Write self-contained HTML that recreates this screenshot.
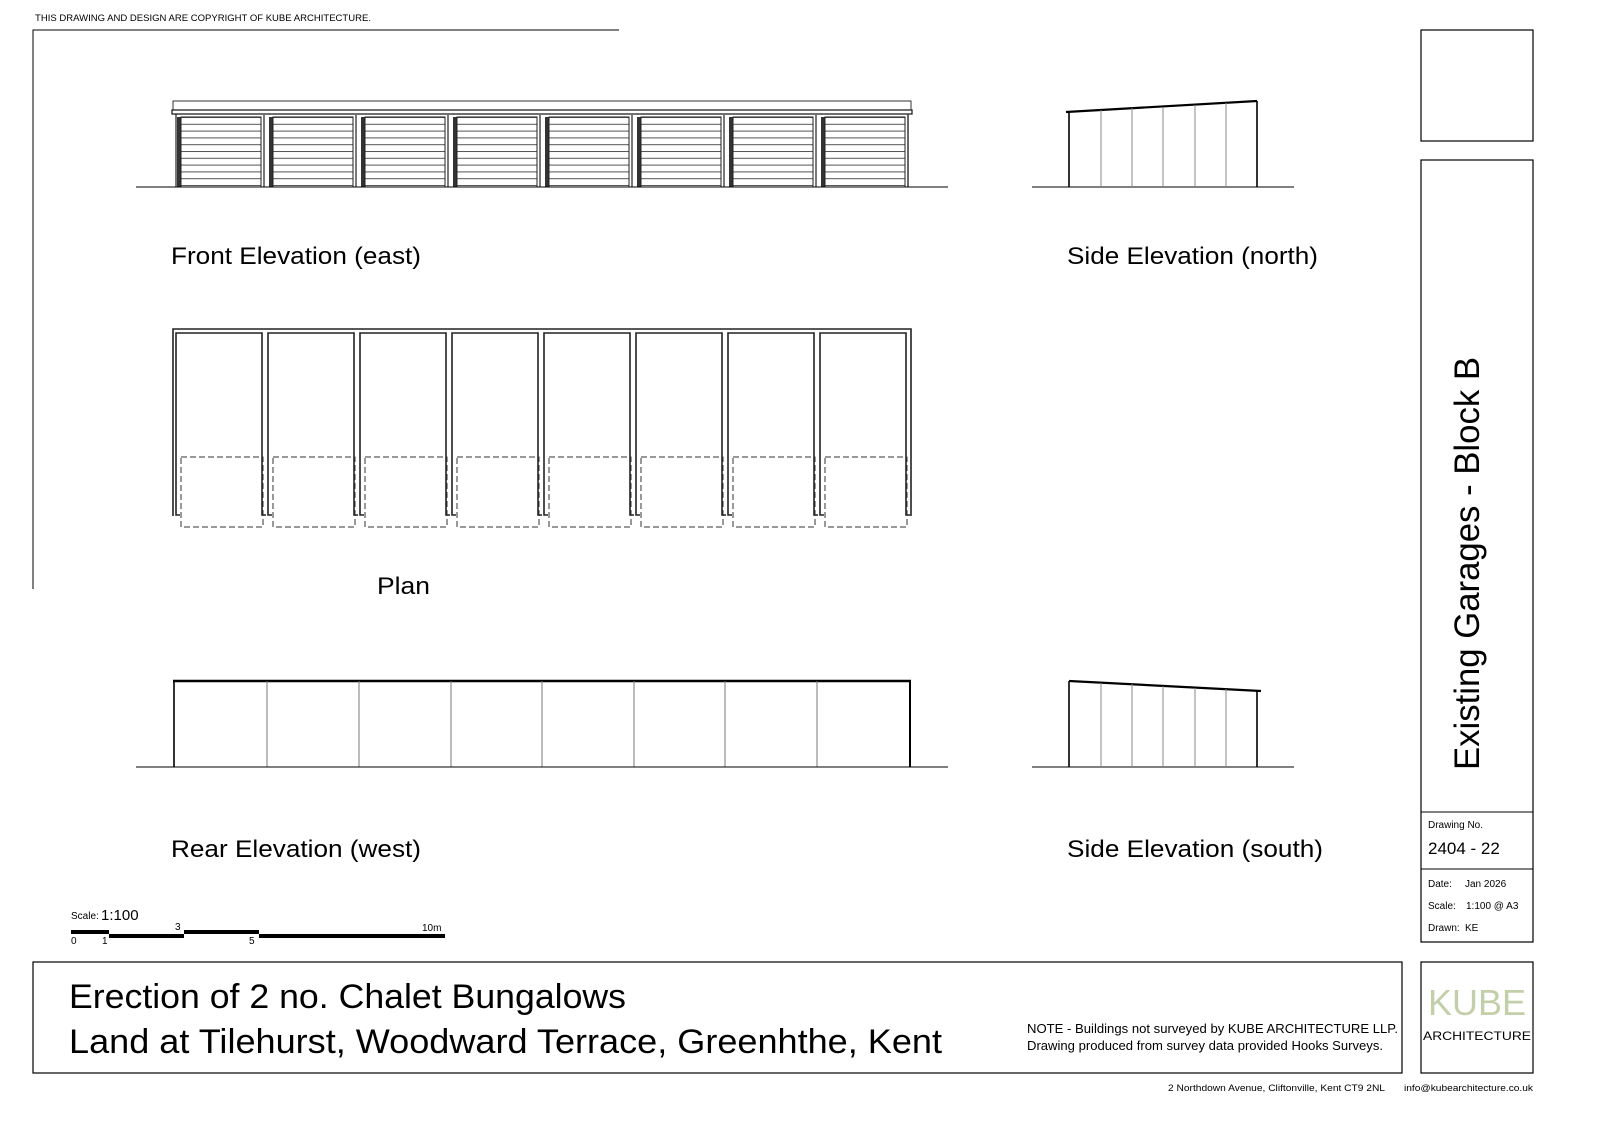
<!DOCTYPE html>
<html><head><meta charset="utf-8"><style>
html,body{margin:0;padding:0;background:#fff;}
svg{display:block;font-family:"Liberation Sans",Arial,sans-serif;}
</style></head><body>
<svg width="1600" height="1131" viewBox="0 0 1600 1131" xmlns="http://www.w3.org/2000/svg">
<defs>
<pattern id="slat" x="0" y="117" width="10" height="6.8" patternUnits="userSpaceOnUse">
<line x1="0" y1="0.5" x2="10" y2="0.5" stroke="#555" stroke-width="1"/>
</pattern>
<g id="bayF">
<rect x="4" y="117" width="4" height="70" fill="#333"/>
<rect x="8" y="117" width="80" height="70" fill="url(#slat)" stroke="#222" stroke-width="1"/>
<line x1="91" y1="115" x2="91" y2="187" stroke="#222" stroke-width="1.2"/>
</g>
<g id="bayP" fill="none" stroke="#222">
<polyline points="7,515 3,515 3,333 89,333 89,515 93,515" stroke-width="1.6"/>
<rect x="8" y="457" width="82" height="70" stroke="#333" stroke-width="1" stroke-dasharray="6,3"/>
</g>
</defs>
<text x="35" y="21" font-size="9" textLength="336" lengthAdjust="spacingAndGlyphs">THIS DRAWING AND DESIGN ARE COPYRIGHT OF KUBE ARCHITECTURE.</text>
<polyline points="619,30 33,30 33,589" fill="none" stroke="#000" stroke-width="1"/>

<!-- Front elevation -->
<rect x="173" y="101" width="738" height="9" fill="none" stroke="#333" stroke-width="1"/>
<rect x="172" y="110" width="740" height="4" fill="none" stroke="#222" stroke-width="1.3"/>
<line x1="176" y1="114" x2="176" y2="187" stroke="#222" stroke-width="1.2"/>
<line x1="908" y1="114" x2="908" y2="187" stroke="#222" stroke-width="1.2"/>
<use href="#bayF" x="173"/><use href="#bayF" x="265"/><use href="#bayF" x="357"/><use href="#bayF" x="449"/>
<use href="#bayF" x="541"/><use href="#bayF" x="633"/><use href="#bayF" x="725"/><use href="#bayF" x="817"/>
<line x1="136" y1="187" x2="948" y2="187" stroke="#000" stroke-width="1"/>
<text x="171" y="264" font-size="24" textLength="250" lengthAdjust="spacingAndGlyphs">Front Elevation (east)</text>

<!-- Side north -->
<line x1="1032" y1="187" x2="1294" y2="187" stroke="#000" stroke-width="1"/>
<line x1="1066" y1="112" x2="1257" y2="101" stroke="#000" stroke-width="2.2"/>
<line x1="1069" y1="112" x2="1069" y2="187" stroke="#000" stroke-width="1.6"/>
<line x1="1257" y1="101" x2="1257" y2="187" stroke="#000" stroke-width="1.6"/>
<g stroke="#888" stroke-width="1">
<line x1="1101" y1="110" x2="1101" y2="187"/><line x1="1132" y1="108" x2="1132" y2="187"/>
<line x1="1163" y1="107" x2="1163" y2="187"/><line x1="1195" y1="105" x2="1195" y2="187"/>
<line x1="1226" y1="103" x2="1226" y2="187"/></g>
<text x="1067" y="264" font-size="24" textLength="251" lengthAdjust="spacingAndGlyphs">Side Elevation (north)</text>

<!-- Plan -->
<polyline points="173,516 173,329 911,329 911,516" fill="none" stroke="#222" stroke-width="1.6"/>
<use href="#bayP" x="173"/><use href="#bayP" x="265"/><use href="#bayP" x="357"/><use href="#bayP" x="449"/>
<use href="#bayP" x="541"/><use href="#bayP" x="633"/><use href="#bayP" x="725"/><use href="#bayP" x="817"/>
<text x="377" y="594" font-size="24" textLength="53" lengthAdjust="spacingAndGlyphs">Plan</text>

<!-- Rear -->
<line x1="173" y1="681" x2="911" y2="681" stroke="#000" stroke-width="2.5"/>
<line x1="174" y1="681" x2="174" y2="767" stroke="#000" stroke-width="1.6"/>
<line x1="910" y1="681" x2="910" y2="767" stroke="#000" stroke-width="2"/>
<g stroke="#777" stroke-width="1">
<line x1="267" y1="681" x2="267" y2="767"/><line x1="359" y1="681" x2="359" y2="767"/>
<line x1="451" y1="681" x2="451" y2="767"/><line x1="542" y1="681" x2="542" y2="767"/>
<line x1="634" y1="681" x2="634" y2="767"/><line x1="725" y1="681" x2="725" y2="767"/>
<line x1="817" y1="681" x2="817" y2="767"/></g>
<line x1="136" y1="767" x2="948" y2="767" stroke="#000" stroke-width="1"/>
<text x="171" y="857" font-size="24" textLength="250" lengthAdjust="spacingAndGlyphs">Rear Elevation (west)</text>

<!-- Side south -->
<line x1="1032" y1="767" x2="1294" y2="767" stroke="#000" stroke-width="1"/>
<line x1="1069" y1="681" x2="1261" y2="691" stroke="#000" stroke-width="2.2"/>
<line x1="1069" y1="681" x2="1069" y2="767" stroke="#000" stroke-width="1.6"/>
<line x1="1257" y1="691" x2="1257" y2="767" stroke="#000" stroke-width="1.6"/>
<g stroke="#888" stroke-width="1">
<line x1="1101" y1="683" x2="1101" y2="767"/><line x1="1132" y1="684" x2="1132" y2="767"/>
<line x1="1163" y1="686" x2="1163" y2="767"/><line x1="1195" y1="688" x2="1195" y2="767"/>
<line x1="1226" y1="689" x2="1226" y2="767"/></g>
<text x="1067" y="857" font-size="24" textLength="256" lengthAdjust="spacingAndGlyphs">Side Elevation (south)</text>

<!-- Scale -->
<text x="71" y="919" font-size="10">Scale:</text>
<text x="101" y="920" font-size="15">1:100</text>
<rect x="71" y="930" width="38" height="4" fill="#000"/>
<rect x="109" y="934" width="75" height="4" fill="#000"/>
<rect x="184" y="930" width="75" height="4" fill="#000"/>
<rect x="259" y="934" width="186" height="4" fill="#000"/>
<text x="71" y="944" font-size="10">0</text><text x="102" y="944" font-size="10">1</text>
<text x="175" y="930" font-size="10">3</text><text x="249" y="944" font-size="10">5</text>
<text x="422" y="931" font-size="10">10m</text>

<!-- Right boxes -->
<rect x="1421" y="30" width="112" height="111" fill="none" stroke="#000" stroke-width="1.2"/>
<rect x="1421" y="160" width="112" height="782" fill="none" stroke="#000" stroke-width="1.2"/>
<line x1="1421" y1="812" x2="1533" y2="812" stroke="#000"/>
<line x1="1421" y1="869" x2="1533" y2="869" stroke="#000"/>
<text transform="translate(1479,770) rotate(-90)" font-size="35" textLength="413" lengthAdjust="spacingAndGlyphs">Existing Garages - Block B</text>
<text x="1428" y="828" font-size="10">Drawing No.</text>
<text x="1428" y="854" font-size="17">2404 - 22</text>
<text x="1428" y="887" font-size="10">Date:</text><text x="1465" y="887" font-size="10">Jan 2026</text>
<text x="1428" y="909" font-size="10">Scale:</text><text x="1466" y="909" font-size="10">1:100 @ A3</text>
<text x="1428" y="931" font-size="10">Drawn:</text><text x="1465" y="931" font-size="10">KE</text>
<rect x="1421" y="962" width="112" height="111" fill="none" stroke="#000" stroke-width="1.2"/>
<text x="1477" y="1015" font-size="36" fill="#c3cfa8" text-anchor="middle">KUBE</text>
<text x="1477" y="1040" font-size="12" text-anchor="middle" textLength="108" lengthAdjust="spacingAndGlyphs">ARCHITECTURE</text>

<!-- Title box -->
<rect x="33" y="962" width="1369" height="111" fill="none" stroke="#000" stroke-width="1.2"/>
<text x="69" y="1008" font-size="34" textLength="557" lengthAdjust="spacingAndGlyphs">Erection of 2 no. Chalet Bungalows</text>
<text x="69" y="1053" font-size="34" textLength="873" lengthAdjust="spacingAndGlyphs">Land at Tilehurst, Woodward Terrace, Greenhthe, Kent</text>
<text x="1027" y="1033" font-size="13" textLength="371" lengthAdjust="spacingAndGlyphs">NOTE - Buildings not surveyed by KUBE ARCHITECTURE LLP.</text>
<text x="1027" y="1050" font-size="13" textLength="356" lengthAdjust="spacingAndGlyphs">Drawing produced from survey data provided Hooks Surveys.</text>
<text x="1168" y="1091" font-size="9" textLength="217" lengthAdjust="spacingAndGlyphs">2 Northdown Avenue, Cliftonville, Kent CT9 2NL</text>
<text x="1404" y="1091" font-size="9" textLength="129" lengthAdjust="spacingAndGlyphs">info@kubearchitecture.co.uk</text>
</svg>
</body></html>
